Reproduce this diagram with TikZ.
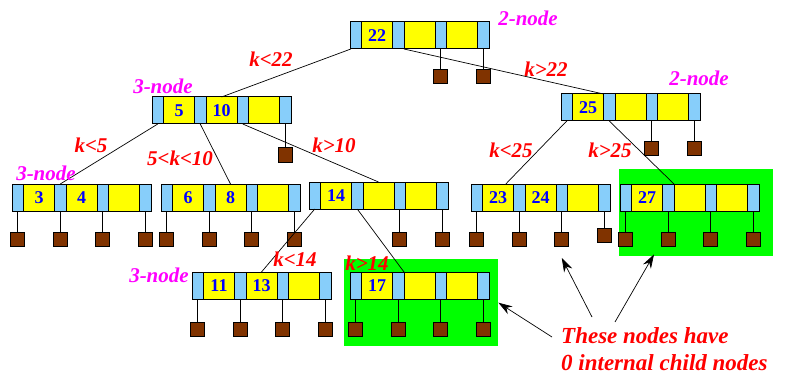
\documentclass[tikz,border=0pt]{standalone}
\usepackage{fontspec}
\setmainfont{Liberation Serif}
\usetikzlibrary{arrows.meta,positioning,calc}

\definecolor{keyblue}{RGB}{135,206,250}
\definecolor{keyyellow}{RGB}{255,255,0}
\definecolor{keytext}{RGB}{0,0,255}
\definecolor{leafbrown}{RGB}{128,51,0}
\definecolor{kindpink}{RGB}{255,0,255}
\definecolor{condred}{RGB}{255,0,0}
\definecolor{hlgreen}{RGB}{0,255,0}

\begin{document}
\begin{tikzpicture}[x=1pt,y=-1pt,>={Stealth[length=14pt,width=9pt]},
 cell/.style={draw,line width=1pt,inner sep=0pt,outer sep=0pt,minimum height=27pt},
 ptr/.style={cell,fill=keyblue,minimum width=11.5pt},
 key/.style={cell,fill=keyyellow,minimum width=31pt,text=keytext,
  font=\fontsize{18}{18}\selectfont\bfseries},
 leaf/.style={draw,line width=1pt,fill=leafbrown,minimum size=14pt,inner sep=0pt,outer sep=0pt},
 kind/.style={text=kindpink,font=\fontsize{21}{21}\selectfont\bfseries\itshape},
 cond/.style={text=condred,font=\fontsize{21}{21}\selectfont\bfseries\itshape},
 nochild/.style={fill=hlgreen,inner sep=0pt,anchor=north west},
 link/.style={line width=0.7pt}]
 \useasboundingbox (0,0) rectangle (787,385);
 % highlighted nodes (behind everything)
 \node[nochild,minimum width=154pt,minimum height=87pt] (hl27) at (619,169) {};
 \node[nochild,minimum width=154pt,minimum height=87pt] (hl17) at (344,259) {};
 % tree nodes: ptr | key | ptr | key | ptr | key | ptr
 \foreach \n/\x/\y/\ka/\kb in {r/350/22/22/{},a/152/97/5/10,c/561/94/25/{},
  d/12/184/3/4,e/161/184/6/8,f/309/182/14/{},g/471/184/23/24,h/620/184/27/{},
  i/192/272/11/13,j/350/272/17/{}}{
  \node[ptr,anchor=north west] (\n-p1) at (\x,\y) {};
  \node[key,right=0pt of \n-p1] (\n-k1) {\ka};
  \node[ptr,right=0pt of \n-k1] (\n-p2) {};
  \node[key,right=0pt of \n-p2] (\n-k2) {\kb};
  \node[ptr,right=0pt of \n-k2] (\n-p3) {};
  \node[key,right=0pt of \n-p3] (\n-k3) {};
  \node[ptr,right=0pt of \n-k3] (\n-p4) {};
 }
 % external (leaf) children
 \foreach \p/\g in {r-p3/21,r-p4/21,a-p4/24,c-p3/21,c-p4/21,
  d-p1/21,d-p2/21,d-p3/21,d-p4/21,e-p1/21,e-p2/21,e-p3/21,e-p4/21,
  f-p3/23,f-p4/23,g-p1/21,g-p2/21,g-p3/21,g-p4/17,h-p1/21,h-p2/21,h-p3/21,h-p4/21,
  i-p1/23,i-p2/23,i-p3/23,i-p4/23,j-p1/23,j-p2/23,j-p3/23,j-p4/23}{
  \node[leaf,below=\g pt of \p] (\p-x) {};
  \draw[link] (\p.south) -- (\p-x);
 }
 % internal children
 \draw[link] (r-p1.250) -- (a-k2.north);
 \draw[link] (r-p2.south east) -- (c-k1.north east);
 \draw[link] (a-p1.south) -- (d-p2.north);
 \draw[link] (a-p2.south) -- (e-k2.north);
 \draw[link] (a-p3.south) -- (f-k2.north);
 \draw[link] (c-p1.south) -- (g-k1.60);
 \draw[link] (c-p2.south) -- (h-p2.north east);
 \draw[link] (f-p1.south) -- (i-k2.north);
 \draw[link] (f-p2.south) -- (j-p2.north east);
 % labels
 \node[kind] (t22) at (528,18) {2-node};
 \node[kind] (t510) at (163,86) {3-node};
 \node[kind] (t34) at (46,173) {3-node};
 \node[kind] (t25) at (699,78) {2-node};
 \node[kind] (t1113) at (159,275) {3-node};
 \node[cond] (lt22) at (271,59) {k<22};
 \node[cond] (gt22) at (546,69) {k>22};
 \node[cond] (lt5) at (91,145) {k<5};
 \node[cond] (in510) at (180,158) {5<k<10};
 \node[cond] (gt10) at (334,145) {k>10};
 \node[cond] (lt25) at (511,150) {k<25};
 \node[cond] (gt25) at (610,150) {k>25};
 \node[cond] (lt14) at (295,259) {k<14};
 \node[cond] (gt14) at (367,263) {k>14};
 \node[cond,anchor=north west,align=left,inner sep=0pt,
  font=\fontsize{23}{27}\selectfont\bfseries\itshape] (note) at (561,327)
  {These nodes have\\0 internal child nodes};
 \coordinate (from17) at (552,337);
 \coordinate (from24) at (592,317);
 \coordinate (from27) at (615,322);
 \draw[->,link] (from17) -- (hl17.east);
 \draw[->,link] (from24) -- ($(g-p3-x.south)+(0,12)$);
 \draw[->,link] (from27) -- ($(hl27.south west)+(35,-2)$);
\end{tikzpicture}
\end{document}
